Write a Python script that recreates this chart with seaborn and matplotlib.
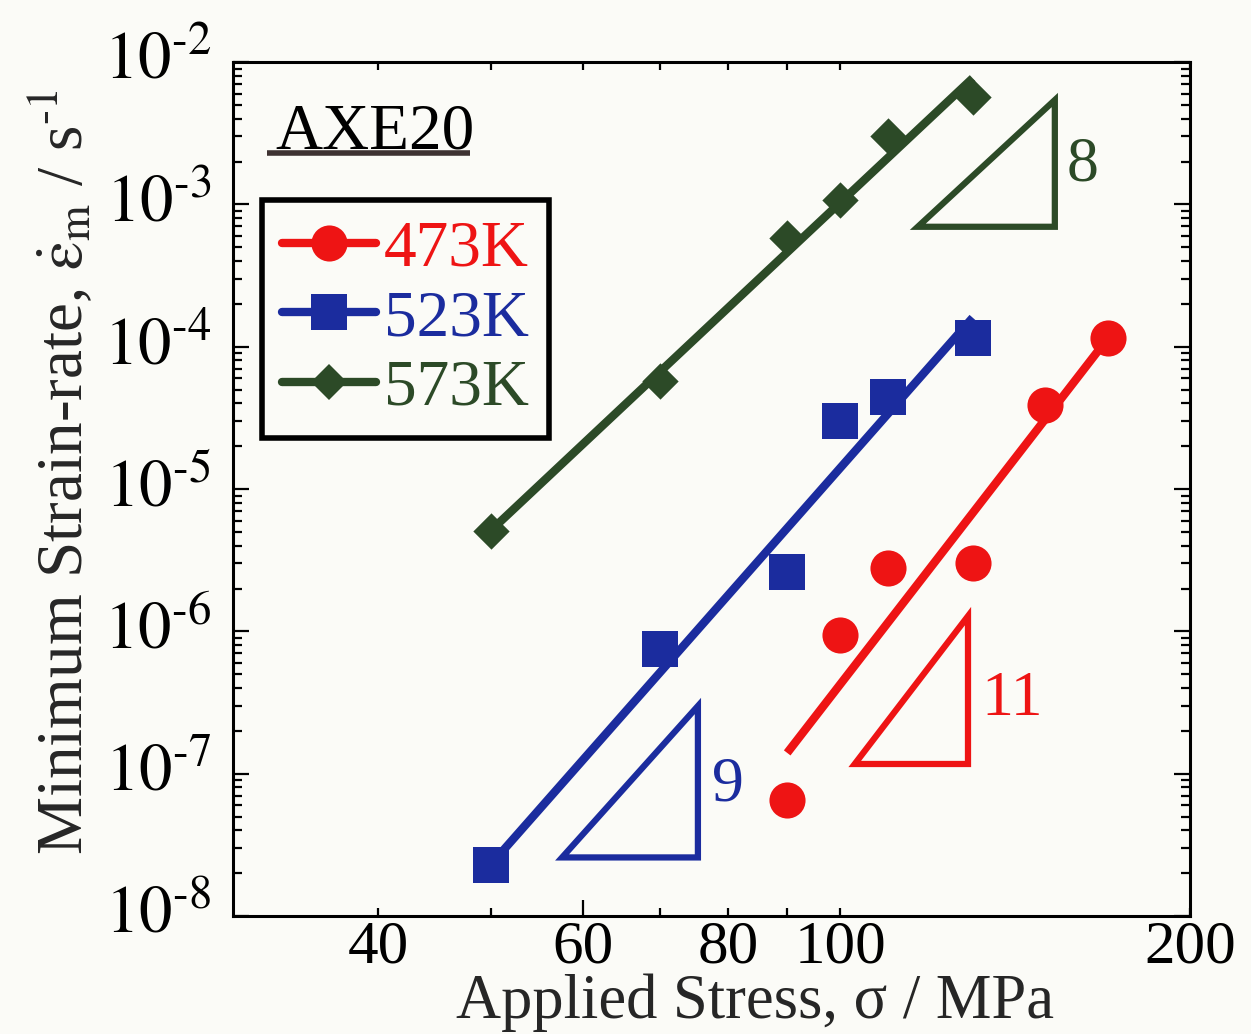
import numpy as np
import pandas as pd
import matplotlib
matplotlib.use("Agg")
import matplotlib.pyplot as plt
import matplotlib.transforms as mtransforms
import seaborn as sns
from matplotlib.lines import Line2D
from matplotlib.patches import Polygon
from matplotlib.ticker import FixedLocator, FixedFormatter, LogLocator, NullFormatter

# ---------------- data ----------------
temps = ["473K", "523K", "573K"]
colors = ["#ee1414", "#1b2c9e", "#2c4a27"]
markers = ["o", "s", "D"]

stress_473 = [90, 100, 110, 130, 150, 170]
rate_473 = [6.5e-8, 9.5e-7, 2.8e-6, 3.0e-6, 3.9e-5, 1.15e-4]
stress_523 = [50, 70, 90, 100, 110, 130]
rate_523 = [2.3e-8, 7.5e-7, 2.6e-6, 3.0e-5, 4.4e-5, 1.15e-4]
stress_573 = [50, 70, 90, 100, 110, 130]
rate_573 = [5.1e-6, 5.7e-5, 5.8e-4, 1.07e-3, 3.0e-3, 5.7e-3]

# fitted power-law lines (end points)
fit_473_x = [90, 170]
fit_473_y = [1.4e-7, 1.15e-4]
fit_523_x = [50, 130]
fit_523_y = [2.3e-8, 1.6e-4]
fit_573_x = [50, 130]
fit_573_y = [5.1e-6, 7.7e-3]

# slope triangles
tri_473_x = [102.9, 128.8, 128.8]
tri_473_y = [1.17e-7, 1.17e-7, 1.28e-6]
tri_523_x = [57.6, 75.4, 75.4]
tri_523_y = [2.58e-8, 2.58e-8, 2.99e-7]
tri_573_x = [116.6, 153.0, 153.0]
tri_573_y = [6.96e-4, 6.96e-4, 5.41e-3]
slope_labels = ["11", "9", "8"]
slope_label_x = [140.5, 80.0, 161.5]
slope_label_y = [3.3e-7, 8.3e-8, 1.89e-3]

x_ticks = [40, 50, 60, 70, 80, 90, 100, 200]
x_ticklabels = ["40", "", "60", "", "80", "", "100", "200"]
y_decades = [-8, -7, -6, -5, -4, -3, -2]

# ---------------- style ----------------
sns.set_style("ticks")
plt.rcParams["font.family"] = ["Liberation Serif", "DejaVu Serif"]
plt.rcParams["mathtext.fontset"] = "stix"
bg = "#fbfbf7"
HY = "\u2010"  # short hyphen used in exponents

fig = plt.figure(figsize=(12.51, 10.34), dpi=100, facecolor=bg)
ax = fig.add_axes([0.1863, 0.1141, 0.9512 - 0.1863, 0.9400 - 0.1141])
ax.set_facecolor(bg)

stress = [stress_473, stress_523, stress_573]
rates = [rate_473, rate_523, rate_573]
fits_x = [fit_473_x, fit_523_x, fit_573_x]
fits_y = [fit_473_y, fit_523_y, fit_573_y]
tris_x = [tri_473_x, tri_523_x, tri_573_x]
tris_y = [tri_473_y, tri_523_y, tri_573_y]
msizes = [26, 26, 18.5]

for i, t in enumerate(temps):
    dfit = pd.DataFrame({"x": fits_x[i], "y": fits_y[i]})
    sns.lineplot(data=dfit, x="x", y="y", ax=ax, color=colors[i], lw=6,
                 solid_capstyle="butt", zorder=3)
    dpts = pd.DataFrame({"x": stress[i], "y": rates[i]})
    sns.scatterplot(data=dpts, x="x", y="y", ax=ax, color=colors[i],
                    marker=markers[i], s=msizes[i] ** 2, linewidth=0, zorder=4)
    verts = np.column_stack([tris_x[i], tris_y[i]])
    ax.add_patch(Polygon(verts, closed=True, fill=False, edgecolor=colors[i],
                         lw=4.5, joinstyle="miter", zorder=3))
    ax.text(slope_label_x[i], slope_label_y[i], slope_labels[i], color=colors[i],
            fontsize=46, ha="center", va="center", zorder=5)

ax.set_xscale("log")
ax.set_yscale("log")
ax.set_xlim(30, 200)
ax.set_ylim(1e-8, 1e-2)

# x ticks
ax.xaxis.set_major_locator(FixedLocator(x_ticks))
ax.xaxis.set_major_formatter(FixedFormatter(x_ticklabels))
ax.xaxis.set_minor_locator(FixedLocator([]))
# y ticks
ax.yaxis.set_major_locator(FixedLocator([10.0 ** d for d in y_decades]))
ax.yaxis.set_major_formatter(FixedFormatter([r"$10^{%s%d}$" % (HY, -d) for d in y_decades]))
ax.yaxis.set_minor_locator(LogLocator(base=10, subs=np.arange(2, 10), numticks=20))
ax.yaxis.set_minor_formatter(NullFormatter())

ax.tick_params(axis="both", which="both", direction="in", top=True, right=True,
               colors="black", width=1.6)
ax.tick_params(axis="y", which="major", length=11.5, labelsize=48, pad=16)
ax.tick_params(axis="y", which="minor", length=6.5)
ax.tick_params(axis="x", which="major", length=6, labelsize=44, pad=3)
for tk in ax.xaxis.get_major_ticks():
    if tk.get_loc() == 100:
        tk.tick1line.set_markersize(11.5)
shift = mtransforms.ScaledTranslation(0, 5 / 72, fig.dpi_scale_trans)
for lab in ax.get_yticklabels():
    lab.set_transform(lab.get_transform() + shift)

for sp in ax.spines.values():
    sp.set_linewidth(2.2)
    sp.set_color("black")

ax.set_xlabel("Applied Stress, σ / MPa", fontsize=45)
ax.xaxis.set_label_coords(0.545, -0.067)
ax.set_ylabel(r"Minimum Strain-rate, $\dot{\mathrm{\varepsilon}}_{\mathrm{m}}$ / s$^{%s1}$" % HY,
              fontsize=47)
ax.yaxis.set_label_coords(-0.143, 0.52)

# sample label
ax.text(0.044, 0.899, "AXE20", transform=ax.transAxes, fontsize=47,
        ha="left", va="baseline", color="black")
ax.plot([0.0355, 0.2476], [0.8934, 0.8934], transform=ax.transAxes,
        color="#3e3232", lw=4, solid_capstyle="butt")

# legend
handles = [Line2D([0], [0], color=colors[i], lw=6, marker=markers[i],
                  markersize=msizes[i], markeredgewidth=0) for i in range(3)]
leg = ax.legend(handles, temps, loc="upper left", bbox_to_anchor=(0.0303, 0.838),
                borderaxespad=0, fontsize=47, frameon=True, fancybox=False,
                framealpha=1, handlelength=1.45, handletextpad=0.12,
                labelspacing=0.15, borderpad=0.3, labelcolor="linecolor")
leg.get_frame().set_edgecolor("black")
leg.get_frame().set_linewidth(4)
leg.get_frame().set_facecolor(bg)

fig.savefig("out.png", dpi=100, facecolor=bg)
